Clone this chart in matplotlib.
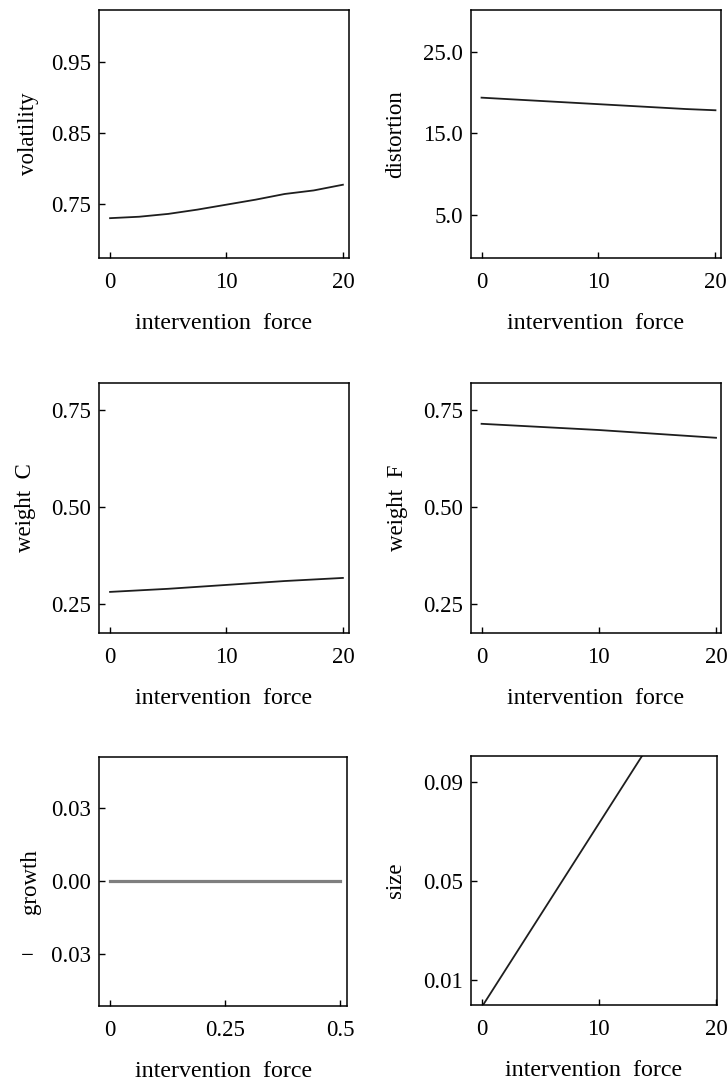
import matplotlib
matplotlib.use('Agg')
import matplotlib.pyplot as plt

plt.rcParams['font.family'] = ['Liberation Serif', 'DejaVu Serif']
plt.rcParams['font.size'] = 16.5

# values
force = [0, 2.5, 5, 7.5, 10, 12.5, 15, 17.5, 20]
volatility = [0.730, 0.732, 0.736, 0.742, 0.749, 0.756, 0.764, 0.769, 0.777]
distortion = [19.4, 19.2, 19.0, 18.8, 18.6, 18.4, 18.2, 18.0, 17.85]
weight_c = [0.281, 0.285, 0.289, 0.294, 0.299, 0.304, 0.309, 0.313, 0.317]
weight_f = [0.714, 0.710, 0.706, 0.702, 0.698, 0.693, 0.688, 0.683, 0.678]

force_g = [0, 0.125, 0.25, 0.375, 0.5]
growth = [0.0, 0.0, 0.0, 0.0, 0.0]

force_s = [0, 5, 10, 15, 20]
size = [-0.001, 0.036, 0.073, 0.110, 0.147]

fig = plt.figure(figsize=(7.28, 10.84), dpi=100)

# axes boxes in figure fractions (left, bottom, width, height)
boxes = [
    (0.136, 0.762, 0.343, 0.229),
    (0.647, 0.762, 0.343, 0.229),
    (0.136, 0.416, 0.343, 0.231),
    (0.647, 0.416, 0.343, 0.231),
    (0.136, 0.072, 0.341, 0.230),
    (0.647, 0.073, 0.338, 0.230),
]

panels = [
    dict(x=force, y=volatility, label='volatility', ylim=(0.674, 1.023),
         yticks=[0.75, 0.85, 0.95], yfmt='{:.2f}', xlim=(-0.95, 20.5),
         xticks=[0, 10, 20], xfmt='{:g}', lx=-0.284),
    dict(x=force, y=distortion, label='distortion', ylim=(-0.3, 30.2),
         yticks=[5, 15, 25], yfmt='{:.1f}', xlim=(-0.9, 20.45),
         xticks=[0, 10, 20], xfmt='{:g}', lx=-0.30),
    dict(x=force, y=weight_c, label='weight  C', ylim=(0.175, 0.82),
         yticks=[0.25, 0.50, 0.75], yfmt='{:.2f}', xlim=(-0.95, 20.5),
         xticks=[0, 10, 20], xfmt='{:g}', lx=-0.296),
    dict(x=force, y=weight_f, label='weight  F', ylim=(0.175, 0.82),
         yticks=[0.25, 0.50, 0.75], yfmt='{:.2f}', xlim=(-0.9, 20.4),
         xticks=[0, 10, 20], xfmt='{:g}', lx=-0.296),
    dict(x=force_g, y=growth, label='growth', ylim=(-0.0515, 0.051),
         yticks=[-0.03, 0.0, 0.03], yfmt='{:.2f}', xlim=(-0.024, 0.515),
         xticks=[0, 0.25, 0.5], xfmt='{:g}', lx=-0.276),
    dict(x=force_s, y=size, label='size', ylim=(0.0, 0.1005),
         yticks=[0.01, 0.05, 0.09], yfmt='{:.2f}', xlim=(-0.9, 20.1),
         xticks=[0, 10, 20], xfmt='{:g}', lx=-0.308),
]

for i, (box, p) in enumerate(zip(boxes, panels)):
    ax = fig.add_axes(box)
    if i == 4:
        ax.plot(p['x'], p['y'], color='#7f7f7f', lw=2.3)
    else:
        ax.plot(p['x'], p['y'], color='#1e1e1e', lw=1.3)
    ax.set_xlim(p['xlim'])
    ax.set_ylim(p['ylim'])
    ax.set_xticks(p['xticks'])
    ax.set_xticklabels([p['xfmt'].format(v) for v in p['xticks']])
    ax.set_yticks(p['yticks'])
    ylabels = []
    for v in p['yticks']:
        if v < 0:
            ylabels.append('\u2212   ' + p['yfmt'].format(-v))
        else:
            ylabels.append(p['yfmt'].format(v))
    ax.set_yticklabels(ylabels)
    ax.tick_params(direction='in', length=4, width=1, pad=10)
    ax.tick_params(axis='y', pad=6)
    for s in ax.spines.values():
        s.set_linewidth(1.1)
    ax.set_xlabel('intervention  force', va='center', fontsize=17.3)
    ax.xaxis.set_label_coords(0.5, -0.262)
    ax.set_ylabel(p['label'], va='center')
    ax.yaxis.set_label_coords(p['lx'], 0.5)

fig.savefig('out.png', dpi=100)
